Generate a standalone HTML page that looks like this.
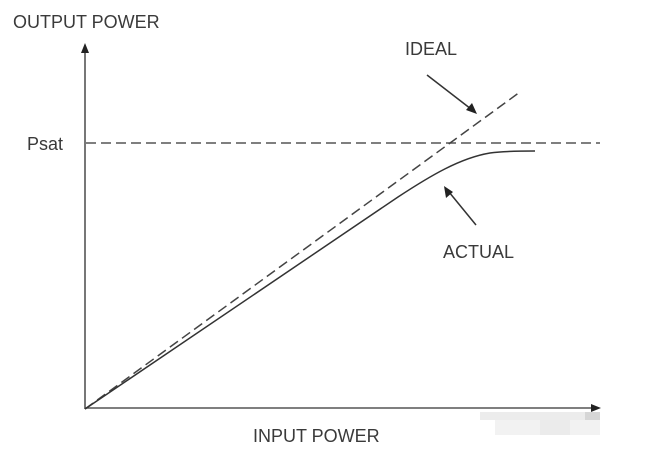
<!DOCTYPE html>
<html>
<head>
<meta charset="utf-8">
<style>
html,body{margin:0;padding:0;background:#fff;}
body{width:660px;height:457px;overflow:hidden;}
svg{display:block;}
text{font-family:"Liberation Sans",sans-serif;font-size:18px;fill:#3a3a3a;}
</style>
</head>
<body>
<svg width="660" height="457" viewBox="0 0 660 457" xmlns="http://www.w3.org/2000/svg">
  <rect width="660" height="457" fill="#fff"/>
  <!-- watermark patch -->
  <rect x="480" y="412" width="105" height="8" fill="#ececec"/>
  <rect x="585" y="412" width="15" height="8" fill="#d6d6d6"/>
  <rect x="495" y="420" width="105" height="15" fill="#f2f2f2"/>
  <rect x="540" y="420" width="30" height="15" fill="#ebebeb"/>

  <!-- axes -->
  <line x1="85" y1="409" x2="85" y2="52" stroke="#555" stroke-width="1.6"/>
  <polygon points="85,43 81,53 89,53" fill="#222"/>
  <line x1="85" y1="408" x2="592" y2="408" stroke="#555" stroke-width="1.6"/>
  <polygon points="601,408 591,404 591,412" fill="#222"/>

  <!-- Psat dashed -->
  <line x1="86" y1="143" x2="600" y2="143" stroke="#555" stroke-width="1.5" stroke-dasharray="10,5"/>

  <!-- ideal dashed -->
  <line x1="85" y1="409" x2="520" y2="92" stroke="#444" stroke-width="1.5" stroke-dasharray="10,5"/>

  <!-- actual curve -->
  <path d="M85,409 L398,197 C430,176 460,158 490,153 C505,151 520,151 535,151" fill="none" stroke="#333" stroke-width="1.5"/>

  <!-- ideal pointer -->
  <line x1="427" y1="75" x2="471" y2="109" stroke="#333" stroke-width="1.5"/>
  <polygon points="477,114 466,110 472,103" fill="#222"/>

  <!-- actual pointer -->
  <line x1="476" y1="225" x2="449" y2="192" stroke="#333" stroke-width="1.5"/>
  <polygon points="444,186 446,198 453,192" fill="#222"/>

  <!-- labels -->
  <text x="13" y="28">OUTPUT POWER</text>
  <text x="27" y="150">Psat</text>
  <text x="405" y="55">IDEAL</text>
  <text x="443" y="258">ACTUAL</text>
  <text x="253" y="442">INPUT POWER</text>
</svg>
</body>
</html>
